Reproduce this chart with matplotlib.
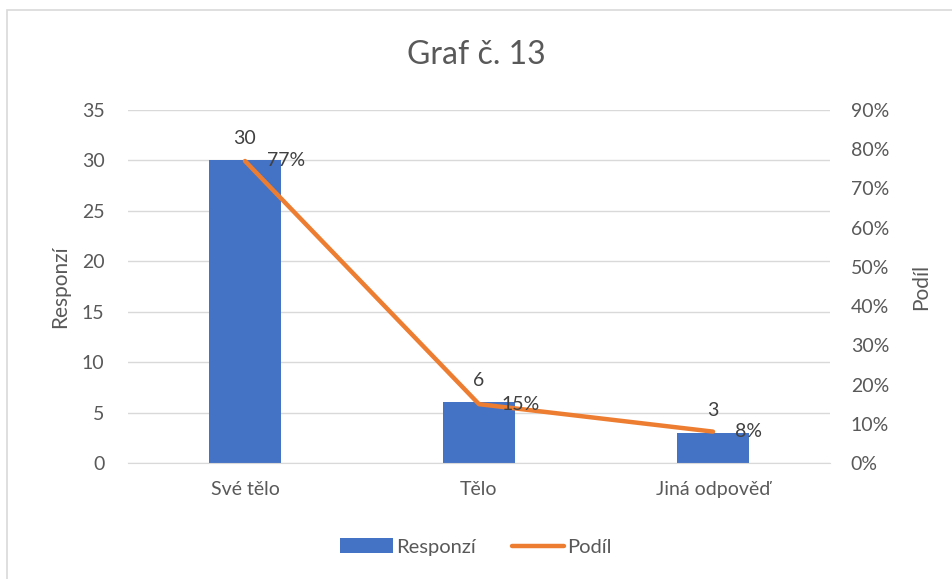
import numpy as np
import matplotlib.pyplot as plt
from matplotlib.patches import Rectangle
from matplotlib.ticker import PercentFormatter

plt.rcParams['font.family'] = ['Lato', 'DejaVu Sans']
plt.rcParams['font.size'] = 14

# data
categories = ['Své tělo', 'Tělo', 'Jiná odpověď']
responzi = [30, 6, 3]
podil = [0.77, 0.15, 0.08]
grey = '#595959'

fig = plt.figure(figsize=(9.52, 5.79), dpi=100)
# chart border like the excel frame
fig.patches.append(Rectangle((7/952, -0.05), 1, 1.05 - 10/579, transform=fig.transFigure,
                             fill=False, edgecolor='#D9D9D9', linewidth=1.2))

ax = fig.add_axes([128/952, 1 - 463/579, 702/952, 353/579])
ax2 = ax.twinx()

x = np.arange(len(categories))
bars = ax.bar(x, responzi, width=0.31, color='#4472C4', label='Responzí', zorder=2)
ax.set_ylim(0, 35)
ax.set_xlim(-0.5, 2.5)
ax.set_yticks(np.arange(0, 36, 5))
ax.yaxis.grid(True, color='#D9D9D9', linewidth=1)
ax.set_axisbelow(True)
ax.set_xticks(x)
ax.set_xticklabels(categories, fontsize=14.5)

line, = ax2.plot(x, podil, color='#ED7D31', linewidth=3.2, solid_capstyle='round',
                 label='Podíl', zorder=3)
ax2.set_ylim(0, 0.9)
ax2.set_yticks(np.arange(0, 0.91, 0.1))
ax2.yaxis.set_major_formatter(PercentFormatter(1.0, decimals=0))

for a in (ax, ax2):
    for s in a.spines.values():
        s.set_visible(False)
    a.tick_params(length=0, colors=grey, labelsize=14)
ax.spines['bottom'].set_visible(True)
ax.spines['bottom'].set_color('#D9D9D9')
ax.tick_params(axis='y', pad=17)
ax.tick_params(axis='x', pad=13)
ax2.tick_params(axis='y', pad=15)

fig.text(60/952, 1 - 287/579, 'Responzí', rotation=90, ha='center', va='center',
         color=grey, fontsize=15)
fig.text(921/952, 1 - 287/579, 'Podíl', rotation=90, ha='center', va='center',
         color=grey, fontsize=15)

# data labels
for xi, v in zip(x, responzi):
    ax.annotate(str(v), (xi, v), xytext=(0, 10), textcoords='offset points',
                ha='center', va='bottom', color='#404040', fontsize=14)
for xi, p in zip(x, podil):
    ax2.annotate(f'{p:.0%}', (xi, p), xytext=(16, 0), textcoords='offset points',
                 ha='left', va='center', color='#404040', fontsize=14)

fig.text(0.5, 1 - 55/579, 'Graf č. 13', ha='center', va='center', fontsize=23, color=grey)

fig.legend([bars, line], ['Responzí', 'Podíl'], loc='center', bbox_to_anchor=(0.5, 1 - 547/579),
           ncol=2, frameon=False, fontsize=14.5, labelcolor=grey, handlelength=2.6,
           handletextpad=0.15, columnspacing=1.8)

fig.savefig('out.png', dpi=100)
